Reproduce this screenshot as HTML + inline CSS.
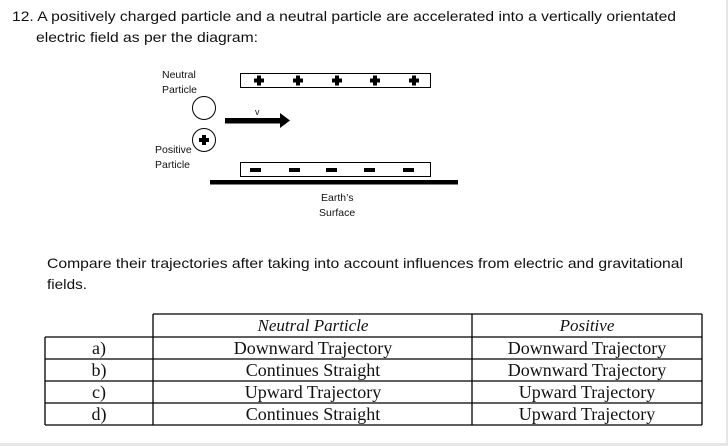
<!DOCTYPE html>
<html><head><style>
html,body{margin:0;padding:0;background:#fff;}
body{width:728px;height:446px;overflow:hidden;position:relative;}
</style></head><body>
<svg width="728" height="446" xmlns="http://www.w3.org/2000/svg" style="position:absolute;left:0;top:0">
<rect x="0" y="0" width="728" height="446" fill="#e6e6e6"/>
<rect x="0" y="0" width="726" height="443" fill="#fff"/>
<g font-family="Liberation Sans, sans-serif" font-size="14" fill="#111">
<text x="12" y="21" textLength="664" lengthAdjust="spacingAndGlyphs">12. A positively charged particle and a neutral particle are accelerated into a vertically orientated</text>
<text x="36" y="42" textLength="222" lengthAdjust="spacingAndGlyphs">electric field as per the diagram:</text>
<text x="47" y="268" textLength="636" lengthAdjust="spacingAndGlyphs">Compare their trajectories after taking into account influences from electric and gravitational</text>
<text x="47" y="289" textLength="40" lengthAdjust="spacingAndGlyphs">fields.</text>
</g>
<g font-family="Liberation Sans, sans-serif" font-size="10.5" fill="#111">
<text x="162" y="78">Neutral</text>
<text x="162" y="93">Particle</text>
<text x="155" y="153">Positive</text>
<text x="155" y="168">Particle</text>
<text x="321" y="201">Earth’s</text>
<text x="319" y="216">Surface</text>
<text x="255" y="115" font-size="9">v</text>
</g>
<rect x="240.5" y="73.5" width="190" height="14" fill="none" stroke="#000"/>
<g fill="#000">
<g id="p"><rect x="254" y="78.5" width="10" height="4"/><rect x="257" y="75.5" width="4" height="10"/></g>
<use href="#p" x="39"/><use href="#p" x="78"/><use href="#p" x="116"/><use href="#p" x="155"/>
</g>
<rect x="240.5" y="162.5" width="190" height="14" fill="none" stroke="#000"/>
<g fill="#000">
<rect x="250" y="168" width="11" height="4"/><rect x="289" y="168" width="11" height="4"/><rect x="326" y="168" width="11" height="4"/><rect x="364" y="168" width="11" height="4"/><rect x="403" y="168" width="11" height="4"/>
</g>
<rect x="210" y="180" width="248" height="4.5" fill="#000"/>
<circle cx="204" cy="108" r="11.5" fill="none" stroke="#000"/>
<circle cx="204" cy="140" r="11.5" fill="none" stroke="#000"/>
<rect x="199" y="138" width="10" height="4" fill="#000"/><rect x="202" y="135" width="4" height="10" fill="#000"/>
<rect x="225" y="118" width="56" height="5.5" fill="#000"/>
<polygon points="280,113 290,120.5 280,128" fill="#000"/>
<g stroke="#000" stroke-width="1.3" fill="none">
<line x1="153" y1="314" x2="702" y2="314"/>
<line x1="45" y1="337" x2="702" y2="337"/>
<line x1="45" y1="359" x2="702" y2="359"/>
<line x1="45" y1="381" x2="702" y2="381"/>
<line x1="45" y1="403" x2="702" y2="403"/>
<line x1="45" y1="425" x2="702" y2="425"/>
<line x1="45" y1="337" x2="45" y2="425"/>
<line x1="153" y1="314" x2="153" y2="425"/>
<line x1="472" y1="314" x2="472" y2="425"/>
<line x1="702" y1="314" x2="702" y2="425"/>
</g>
<g font-family="Liberation Serif, serif" font-size="18" fill="#111" text-anchor="middle">
<text x="313" y="331" font-style="italic" font-size="17">Neutral Particle</text>
<text x="587" y="331" font-style="italic" font-size="17">Positive</text>
<text x="99" y="354">a)</text><text x="313" y="354">Downward Trajectory</text><text x="587" y="354">Downward Trajectory</text>
<text x="99" y="376">b)</text><text x="313" y="376">Continues Straight</text><text x="587" y="376">Downward Trajectory</text>
<text x="99" y="398">c)</text><text x="313" y="398">Upward Trajectory</text><text x="587" y="398">Upward Trajectory</text>
<text x="99" y="420">d)</text><text x="313" y="420">Continues Straight</text><text x="587" y="420">Upward Trajectory</text>
</g>
</svg>
</body></html>
